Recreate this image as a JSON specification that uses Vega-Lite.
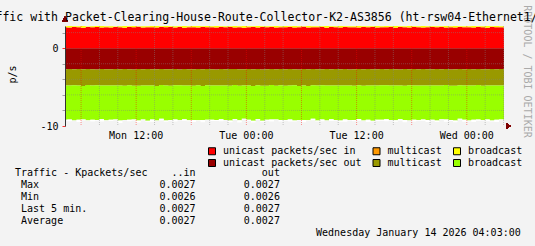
{
"$schema": "https://vega.github.io/schema/vega-lite/v6.json",
"autosize": {"type": "none"},
"padding": {"left": 15, "top": 26, "right": 520, "bottom": 220},
"background": "#f3f3f3",
"config": {"view": {"stroke": null}, "font": "DejaVu Sans Mono"},
"spacing": 47.3,
"bounds": "flush",
"center": true,
"vconcat": [
{
"width": 439,
"height": 100,
"title": {"text": "Traffic with Packet-Clearing-House-Route-Collector-K2-AS3856 (ht-rsw04-Ethernet1/1)", "anchor": "start", "frame": "group", "orient": "top", "dx": -90.4, "dy": 28, "offset": 0, "baseline": "alphabetic", "font": "DejaVu Sans Mono", "fontSize": 11.55, "fontWeight": "normal", "color": "#000"},
"data": {"values": [
{"t":"2026-01-12T04:00Z","p1":2.70,"p3":0.12,"q1":-2.70,"q2":-2.08,"q3":-4.42,"q4":-0.10},
{"t":"2026-01-12T04:30Z","p1":2.66,"p3":0.18,"q1":-2.68,"q2":-2.12,"q3":-4.35,"q4":-0.25},
{"t":"2026-01-12T05:00Z","p1":2.72,"p3":0.10,"q1":-2.72,"q2":-2.05,"q3":-4.48,"q4":-0.05},
{"t":"2026-01-12T05:30Z","p1":2.68,"p3":0.15,"q1":-2.69,"q2":-2.10,"q3":-4.40,"q4":-0.30},
{"t":"2026-01-12T06:00Z","p1":2.64,"p3":0.20,"q1":-2.71,"q2":-2.14,"q3":-4.30,"q4":-0.15},
{"t":"2026-01-12T06:30Z","p1":2.71,"p3":0.09,"q1":-2.67,"q2":-2.07,"q3":-4.52,"q4":-0.08},
{"t":"2026-01-12T07:00Z","p1":2.69,"p3":0.14,"q1":-2.70,"q2":-2.11,"q3":-4.38,"q4":-0.22},
{"t":"2026-01-12T07:30Z","p1":2.73,"p3":0.11,"q1":-2.73,"q2":-2.04,"q3":-4.45,"q4":-0.12},
{"t":"2026-01-12T08:00Z","p1":2.65,"p3":0.19,"q1":-2.68,"q2":-2.13,"q3":-4.33,"q4":-0.28},
{"t":"2026-01-12T08:30Z","p1":2.70,"p3":0.13,"q1":-2.70,"q2":-2.09,"q3":-4.47,"q4":-0.06},
{"t":"2026-01-12T09:00Z","p1":2.67,"p3":0.16,"q1":-2.72,"q2":-2.06,"q3":-4.41,"q4":-0.18},
{"t":"2026-01-12T09:30Z","p1":2.72,"p3":0.08,"q1":-2.69,"q2":-2.12,"q3":-4.36,"q4":-0.10},
{"t":"2026-01-12T10:00Z","p1":2.69,"p3":0.14,"q1":-2.71,"q2":-2.08,"q3":-4.50,"q4":-0.32},
{"t":"2026-01-12T10:30Z","p1":2.63,"p3":0.21,"q1":-2.68,"q2":-2.15,"q3":-4.39,"q4":-0.04},
{"t":"2026-01-12T11:00Z","p1":2.71,"p3":0.10,"q1":-2.70,"q2":-2.05,"q3":-4.44,"q4":-0.20},
{"t":"2026-01-12T11:30Z","p1":2.68,"p3":0.17,"q1":-2.74,"q2":-2.10,"q3":-4.31,"q4":-0.14},
{"t":"2026-01-12T12:00Z","p1":2.74,"p3":0.07,"q1":-2.69,"q2":-2.13,"q3":-4.46,"q4":-0.26},
{"t":"2026-01-12T12:30Z","p1":2.66,"p3":0.15,"q1":-2.71,"q2":-2.07,"q3":-4.40,"q4":-0.08},
{"t":"2026-01-12T13:00Z","p1":2.70,"p3":0.12,"q1":-2.67,"q2":-2.11,"q3":-4.54,"q4":-0.12},
{"t":"2026-01-12T13:30Z","p1":2.69,"p3":0.18,"q1":-2.70,"q2":-2.09,"q3":-4.37,"q4":-0.30},
{"t":"2026-01-12T14:00Z","p1":2.65,"p3":0.20,"q1":-2.72,"q2":-2.14,"q3":-4.43,"q4":-0.06},
{"t":"2026-01-12T14:30Z","p1":2.72,"p3":0.09,"q1":-2.68,"q2":-2.06,"q3":-4.34,"q4":-0.22},
{"t":"2026-01-12T15:00Z","p1":2.68,"p3":0.16,"q1":-2.70,"q2":-2.10,"q3":-4.49,"q4":-0.16},
{"t":"2026-01-12T15:30Z","p1":2.71,"p3":0.11,"q1":-2.71,"q2":-2.12,"q3":-4.41,"q4":-0.10},
{"t":"2026-01-12T16:00Z","p1":2.67,"p3":0.14,"q1":-2.69,"q2":-2.08,"q3":-4.38,"q4":-0.27},
{"t":"2026-01-12T16:30Z","p1":2.73,"p3":0.08,"q1":-2.73,"q2":-2.04,"q3":-4.45,"q4":-0.05},
{"t":"2026-01-12T17:00Z","p1":2.64,"p3":0.21,"q1":-2.67,"q2":-2.13,"q3":-4.32,"q4":-0.19},
{"t":"2026-01-12T17:30Z","p1":2.70,"p3":0.13,"q1":-2.70,"q2":-2.09,"q3":-4.47,"q4":-0.12},
{"t":"2026-01-12T18:00Z","p1":2.69,"p3":0.15,"q1":-2.72,"q2":-2.11,"q3":-4.40,"q4":-0.24},
{"t":"2026-01-12T18:30Z","p1":2.66,"p3":0.19,"q1":-2.68,"q2":-2.07,"q3":-4.51,"q4":-0.09},
{"t":"2026-01-12T19:00Z","p1":2.72,"p3":0.10,"q1":-2.71,"q2":-2.15,"q3":-4.36,"q4":-0.31},
{"t":"2026-01-12T19:30Z","p1":2.68,"p3":0.16,"q1":-2.69,"q2":-2.08,"q3":-4.43,"q4":-0.07},
{"t":"2026-01-12T20:00Z","p1":2.70,"p3":0.12,"q1":-2.70,"q2":-2.10,"q3":-4.39,"q4":-0.17},
{"t":"2026-01-12T20:30Z","p1":2.65,"p3":0.20,"q1":-2.73,"q2":-2.05,"q3":-4.46,"q4":-0.13},
{"t":"2026-01-12T21:00Z","p1":2.71,"p3":0.11,"q1":-2.68,"q2":-2.12,"q3":-4.34,"q4":-0.25},
{"t":"2026-01-12T21:30Z","p1":2.69,"p3":0.14,"q1":-2.71,"q2":-2.09,"q3":-4.42,"q4":-0.06},
{"t":"2026-01-12T22:00Z","p1":2.73,"p3":0.08,"q1":-2.69,"q2":-2.13,"q3":-4.48,"q4":-0.21},
{"t":"2026-01-12T22:30Z","p1":2.67,"p3":0.17,"q1":-2.67,"q2":-2.06,"q3":-4.37,"q4":-0.11},
{"t":"2026-01-12T23:00Z","p1":2.70,"p3":0.13,"q1":-2.72,"q2":-2.11,"q3":-4.44,"q4":-0.29},
{"t":"2026-01-12T23:30Z","p1":2.64,"p3":0.22,"q1":-2.70,"q2":-2.08,"q3":-4.30,"q4":-0.08},
{"t":"2026-01-13T00:00Z","p1":2.68,"p3":0.15,"q1":-2.68,"q2":-2.10,"q3":-4.41,"q4":-0.15},
{"t":"2026-01-13T00:30Z","p1":2.72,"p3":0.10,"q1":-2.71,"q2":-2.14,"q3":-4.47,"q4":-0.23},
{"t":"2026-01-13T01:00Z","p1":2.66,"p3":0.18,"q1":-2.69,"q2":-2.07,"q3":-4.35,"q4":-0.05},
{"t":"2026-01-13T01:30Z","p1":2.71,"p3":0.12,"q1":-2.73,"q2":-2.09,"q3":-4.50,"q4":-0.18},
{"t":"2026-01-13T02:00Z","p1":2.69,"p3":0.14,"q1":-2.70,"q2":-2.12,"q3":-4.39,"q4":-0.12},
{"t":"2026-01-13T02:30Z","p1":2.73,"p3":0.09,"q1":-2.67,"q2":-2.05,"q3":-4.43,"q4":-0.28},
{"t":"2026-01-13T03:00Z","p1":2.65,"p3":0.20,"q1":-2.72,"q2":-2.11,"q3":-4.33,"q4":-0.07},
{"t":"2026-01-13T03:30Z","p1":2.70,"p3":0.13,"q1":-2.69,"q2":-2.08,"q3":-4.46,"q4":-0.20},
{"t":"2026-01-13T04:00Z","p1":2.68,"p3":0.16,"q1":-2.71,"q2":-2.13,"q3":-4.40,"q4":-0.10},
{"t":"2026-01-13T04:30Z","p1":2.72,"p3":0.10,"q1":-2.68,"q2":-2.10,"q3":-4.38,"q4":-0.26},
{"t":"2026-01-13T05:00Z","p1":2.67,"p3":0.17,"q1":-2.70,"q2":-2.06,"q3":-4.52,"q4":-0.14},
{"t":"2026-01-13T05:30Z","p1":2.69,"p3":0.14,"q1":-2.74,"q2":-2.12,"q3":-4.36,"q4":-0.06},
{"t":"2026-01-13T06:00Z","p1":2.74,"p3":0.07,"q1":-2.69,"q2":-2.09,"q3":-4.44,"q4":-0.30},
{"t":"2026-01-13T06:30Z","p1":2.66,"p3":0.19,"q1":-2.71,"q2":-2.15,"q3":-4.41,"q4":-0.09},
{"t":"2026-01-13T07:00Z","p1":2.70,"p3":0.12,"q1":-2.68,"q2":-2.07,"q3":-4.31,"q4":-0.19},
{"t":"2026-01-13T07:30Z","p1":2.68,"p3":0.15,"q1":-2.70,"q2":-2.10,"q3":-4.48,"q4":-0.13},
{"t":"2026-01-13T08:00Z","p1":2.71,"p3":0.11,"q1":-2.72,"q2":-2.04,"q3":-4.39,"q4":-0.24},
{"t":"2026-01-13T08:30Z","p1":2.64,"p3":0.21,"q1":-2.67,"q2":-2.13,"q3":-4.45,"q4":-0.05},
{"t":"2026-01-13T09:00Z","p1":2.72,"p3":0.09,"q1":-2.70,"q2":-2.08,"q3":-4.35,"q4":-0.22},
{"t":"2026-01-13T09:30Z","p1":2.69,"p3":0.14,"q1":-2.69,"q2":-2.11,"q3":-4.42,"q4":-0.11},
{"t":"2026-01-13T10:00Z","p1":2.67,"p3":0.17,"q1":-2.71,"q2":-2.09,"q3":-4.49,"q4":-0.17},
{"t":"2026-01-13T10:30Z","p1":2.73,"p3":0.08,"q1":-2.68,"q2":-2.12,"q3":-4.37,"q4":-0.27},
{"t":"2026-01-13T11:00Z","p1":2.68,"p3":0.15,"q1":-2.73,"q2":-2.06,"q3":-4.43,"q4":-0.08},
{"t":"2026-01-13T11:30Z","p1":2.70,"p3":0.12,"q1":-2.70,"q2":-2.14,"q3":-4.40,"q4":-0.14},
{"t":"2026-01-13T12:00Z","p1":2.65,"p3":0.20,"q1":-2.69,"q2":-2.08,"q3":-4.34,"q4":-0.21},
{"t":"2026-01-13T12:30Z","p1":2.71,"p3":0.11,"q1":-2.72,"q2":-2.10,"q3":-4.47,"q4":-0.06},
{"t":"2026-01-13T13:00Z","p1":2.69,"p3":0.14,"q1":-2.67,"q2":-2.13,"q3":-4.41,"q4":-0.29},
{"t":"2026-01-13T13:30Z","p1":2.72,"p3":0.10,"q1":-2.71,"q2":-2.07,"q3":-4.53,"q4":-0.10},
{"t":"2026-01-13T14:00Z","p1":2.66,"p3":0.18,"q1":-2.70,"q2":-2.11,"q3":-4.38,"q4":-0.18},
{"t":"2026-01-13T14:30Z","p1":2.70,"p3":0.13,"q1":-2.68,"q2":-2.09,"q3":-4.44,"q4":-0.12},
{"t":"2026-01-13T15:00Z","p1":2.68,"p3":0.16,"q1":-2.72,"q2":-2.05,"q3":-4.36,"q4":-0.25},
{"t":"2026-01-13T15:30Z","p1":2.73,"p3":0.08,"q1":-2.69,"q2":-2.12,"q3":-4.42,"q4":-0.07},
{"t":"2026-01-13T16:00Z","p1":2.64,"p3":0.21,"q1":-2.70,"q2":-2.10,"q3":-4.46,"q4":-0.20},
{"t":"2026-01-13T16:30Z","p1":2.71,"p3":0.12,"q1":-2.73,"q2":-2.08,"q3":-4.33,"q4":-0.15},
{"t":"2026-01-13T17:00Z","p1":2.69,"p3":0.14,"q1":-2.68,"q2":-2.14,"q3":-4.40,"q4":-0.31},
{"t":"2026-01-13T17:30Z","p1":2.67,"p3":0.17,"q1":-2.71,"q2":-2.06,"q3":-4.48,"q4":-0.05},
{"t":"2026-01-13T18:00Z","p1":2.72,"p3":0.10,"q1":-2.69,"q2":-2.11,"q3":-4.39,"q4":-0.23},
{"t":"2026-01-13T18:30Z","p1":2.70,"p3":0.13,"q1":-2.70,"q2":-2.09,"q3":-4.45,"q4":-0.09},
{"t":"2026-01-13T19:00Z","p1":2.66,"p3":0.19,"q1":-2.67,"q2":-2.13,"q3":-4.37,"q4":-0.16},
{"t":"2026-01-13T19:30Z","p1":2.68,"p3":0.15,"q1":-2.72,"q2":-2.07,"q3":-4.43,"q4":-0.28},
{"t":"2026-01-13T20:00Z","p1":2.71,"p3":0.11,"q1":-2.70,"q2":-2.10,"q3":-4.41,"q4":-0.11},
{"t":"2026-01-13T20:30Z","p1":2.69,"p3":0.14,"q1":-2.68,"q2":-2.12,"q3":-4.50,"q4":-0.19},
{"t":"2026-01-13T21:00Z","p1":2.73,"p3":0.08,"q1":-2.71,"q2":-2.08,"q3":-4.35,"q4":-0.06},
{"t":"2026-01-13T21:30Z","p1":2.65,"p3":0.20,"q1":-2.69,"q2":-2.05,"q3":-4.44,"q4":-0.26},
{"t":"2026-01-13T22:00Z","p1":2.70,"p3":0.12,"q1":-2.73,"q2":-2.11,"q3":-4.39,"q4":-0.13},
{"t":"2026-01-13T22:30Z","p1":2.67,"p3":0.17,"q1":-2.70,"q2":-2.14,"q3":-4.46,"q4":-0.21},
{"t":"2026-01-13T23:00Z","p1":2.72,"p3":0.10,"q1":-2.67,"q2":-2.09,"q3":-4.32,"q4":-0.08},
{"t":"2026-01-13T23:30Z","p1":2.68,"p3":0.15,"q1":-2.72,"q2":-2.07,"q3":-4.42,"q4":-0.24},
{"t":"2026-01-14T00:00Z","p1":2.70,"p3":0.13,"q1":-2.69,"q2":-2.12,"q3":-4.47,"q4":-0.10},
{"t":"2026-01-14T00:30Z","p1":2.66,"p3":0.18,"q1":-2.71,"q2":-2.10,"q3":-4.38,"q4":-0.30},
{"t":"2026-01-14T01:00Z","p1":2.71,"p3":0.11,"q1":-2.68,"q2":-2.06,"q3":-4.43,"q4":-0.14},
{"t":"2026-01-14T01:30Z","p1":2.69,"p3":0.14,"q1":-2.70,"q2":-2.13,"q3":-4.40,"q4":-0.07},
{"t":"2026-01-14T02:00Z","p1":2.64,"p3":0.21,"q1":-2.72,"q2":-2.08,"q3":-4.36,"q4":-0.22},
{"t":"2026-01-14T02:30Z","p1":2.72,"p3":0.09,"q1":-2.69,"q2":-2.11,"q3":-4.49,"q4":-0.12},
{"t":"2026-01-14T03:00Z","p1":2.68,"p3":0.16,"q1":-2.71,"q2":-2.09,"q3":-4.41,"q4":-0.27},
{"t":"2026-01-14T03:30Z","p1":2.70,"p3":0.12,"q1":-2.68,"q2":-2.12,"q3":-4.37,"q4":-0.09},
{"t":"2026-01-14T04:00Z","p1":2.67,"p3":0.15,"q1":-2.70,"q2":-2.10,"q3":-4.44,"q4":-0.18},
{"t":"2026-01-14T04:30Z","p1":2.69,"p3":0.13,"q1":-2.70,"q2":-2.09,"q3":-4.40,"q4":-0.12}
]},
"layer": [
{
"transform": [{"fold": ["p1", "p3", "q1", "q2", "q3", "q4"], "as": ["key", "v"]}],
"mark": {"type": "area", "interpolate": "step-after", "clip": true},
"encoding": {
"x": {"field": "t", "type": "temporal",
"scale": {"type": "utc", "domain": [{"year": 2026, "month": 1, "date": 12, "hours": 4, "minutes": 15, "utc": true}, {"year": 2026, "month": 1, "date": 14, "hours": 4, "minutes": 3, "utc": true}]},
"axis": {"title": null,
"values": [1768197600000, 1768204800000, 1768212000000, 1768219200000, 1768226400000, 1768233600000, 1768240800000, 1768248000000, 1768255200000, 1768262400000, 1768269600000, 1768276800000, 1768284000000, 1768291200000, 1768298400000, 1768305600000, 1768312800000, 1768320000000, 1768327200000, 1768334400000, 1768341600000, 1768348800000, 1768356000000, 1768363200000],
"labels": false, "grid": false,
"tickColor": {"condition": {"test": "utchours(datum.value) % 6 == 0", "value": "rgba(255,0,0,0.7)"}, "value": "rgba(140,140,140,0.7)"},
"tickSize": 2, "domainColor": "#333", "zindex": 1}},
"y": {"field": "v", "type": "quantitative", "stack": "zero",
"scale": {"domain": [-10, 2.85], "nice": false, "zero": false},
"axis": {"values": [-10, -8, -6, -4, -2, 0, 2],
"labelExpr": "datum.value === 0 ? '0' : (datum.value === -10 ? '-10' : '')",
"labelFont": "DejaVu Sans Mono", "labelFontSize": 10, "labelColor": "#000", "labelPadding": 4,
"grid": false,
"tickColor": {"condition": {"test": "datum.value === 0 || datum.value === -10", "value": "rgba(255,0,0,0.8)"}, "value": "rgba(140,140,140,0.8)"},
"tickSize": 3, "domainColor": "#333",
"title": "p/s", "titleFont": "DejaVu Sans Mono", "titleFontSize": 10, "titleFontWeight": "normal", "titleColor": "#000",
"titleX": -53, "titleY": 48, "titleBaseline": "middle", "titleAlign": "center", "zindex": 1}},
"color": {"field": "key", "type": "nominal",
"scale": {"domain": ["p1", "p2", "p3", "q1", "q2", "q3", "q4"], "range": ["#ff0000", "#ff9900", "#ffff00", "#990000", "#999900", "#99ff00", "#ffffff"]},
"legend": {"values": ["p1", "p2", "p3", "q1", "q2", "q3"], "title": null,
"labelExpr": "datum.value === 'p1' ? 'unicast packets/sec in' : (datum.value === 'q1' ? 'unicast packets/sec out' : ((datum.value === 'p2' || datum.value === 'q2') ? 'multicast' : 'broadcast'))",
"orient": "none", "legendX": 192, "legendY": 120, "direction": "horizontal", "columns": 3, "padding": 0,
"symbolType": "square", "symbolSize": 49, "symbolStrokeColor": "#000", "symbolStrokeWidth": 1, "symbolOpacity": 1,
"labelFont": "DejaVu Sans Mono", "labelFontSize": 10, "labelColor": "#000", "labelOffset": 6, "labelLimit": 0,
"rowPadding": 0, "columnPadding": 8.5, "gridAlign": "each"}},
"order": {"field": "key", "sort": "ascending"}
}
},
{
"data": {"values": [
{"g": "2026-01-12T06:00Z"}, {"g": "2026-01-12T08:00Z"}, {"g": "2026-01-12T10:00Z"}, {"g": "2026-01-12T12:00Z"},
{"g": "2026-01-12T14:00Z"}, {"g": "2026-01-12T16:00Z"}, {"g": "2026-01-12T18:00Z"}, {"g": "2026-01-12T20:00Z"},
{"g": "2026-01-12T22:00Z"}, {"g": "2026-01-13T00:00Z"}, {"g": "2026-01-13T02:00Z"}, {"g": "2026-01-13T04:00Z"},
{"g": "2026-01-13T06:00Z"}, {"g": "2026-01-13T08:00Z"}, {"g": "2026-01-13T10:00Z"}, {"g": "2026-01-13T12:00Z"},
{"g": "2026-01-13T14:00Z"}, {"g": "2026-01-13T16:00Z"}, {"g": "2026-01-13T18:00Z"}, {"g": "2026-01-13T20:00Z"},
{"g": "2026-01-13T22:00Z"}, {"g": "2026-01-14T00:00Z"}, {"g": "2026-01-14T02:00Z"}, {"g": "2026-01-14T04:00Z"}
]},
"mark": {"type": "rule", "strokeDash": [1, 1], "strokeWidth": 1},
"encoding": {
"x": {"field": "g", "type": "temporal", "scale": {"type": "utc", "domain": [{"year": 2026, "month": 1, "date": 12, "hours": 4, "minutes": 15, "utc": true}, {"year": 2026, "month": 1, "date": 14, "hours": 4, "minutes": 3, "utc": true}]}, "axis": null},
"color": {"condition": {"test": "utchours(datum.g) % 6 == 0", "value": "rgba(255,0,0,0.42)"}, "value": "rgba(130,130,130,0.45)"}
}
},
{
"data": {"values": [{"h": -8}, {"h": -6}, {"h": -4}, {"h": -2}, {"h": 0}, {"h": 2}]},
"mark": {"type": "rule", "strokeDash": [1, 1], "strokeWidth": 1},
"encoding": {
"y": {"field": "h", "type": "quantitative", "scale": {"domain": [-10, 2.85], "nice": false, "zero": false}, "axis": null},
"color": {"condition": {"test": "datum.h == 0", "value": "rgba(255,0,0,0.42)"}, "value": "rgba(130,130,130,0.45)"}
}
},
{
"mark": {"type": "point", "shape": "triangle-up", "filled": true, "color": "#7f0000", "size": 25, "opacity": 1, "clip": false},
"encoding": {
"x": {"datum": {"year": 2026, "month": 1, "date": 12, "hours": 4, "minutes": 15, "utc": true}, "type": "temporal", "scale": {"type": "utc"}, "axis": null},
"y": {"datum": 3.75, "type": "quantitative", "scale": {"domain": [-10, 2.85], "nice": false, "zero": false},
"axis": {"orient": "right", "title": "RRDTOOL / TOBI OETIKER", "labels": false, "ticks": false, "domain": false, "grid": false,
"titleAngle": 90, "titleX": 22, "titleY": 45, "titleBaseline": "middle", "titleAlign": "center",
"titleColor": "#aaaaaa", "titleFont": "DejaVu Sans Mono", "titleFontSize": 10, "titleFontWeight": "normal"}}
}
},
{
"mark": {"type": "point", "shape": "triangle-right", "filled": true, "color": "#7f0000", "size": 25, "opacity": 1, "clip": false},
"encoding": {
"x": {"datum": {"year": 2026, "month": 1, "date": 14, "hours": 4, "minutes": 33, "utc": true}, "type": "temporal", "scale": {"type": "utc"}, "axis": null},
"y": {"datum": -10, "type": "quantitative", "scale": {"domain": [-10, 2.85], "nice": false, "zero": false}, "axis": null}
}
},
{
"data": {"values": [
{"t": "2026-01-12T12:00Z", "lab": "Mon 12:00"},
{"t": "2026-01-13T00:00Z", "lab": "Tue 00:00"},
{"t": "2026-01-13T12:00Z", "lab": "Tue 12:00"},
{"t": "2026-01-14T00:00Z", "lab": "Wed 00:00"}
]},
"mark": {"type": "text", "align": "center", "baseline": "top", "dy": 5, "font": "DejaVu Sans Mono", "fontSize": 10, "color": "#000", "clip": false},
"encoding": {
"x": {"field": "t", "type": "temporal", "scale": {"type": "utc", "domain": [{"year": 2026, "month": 1, "date": 12, "hours": 4, "minutes": 15, "utc": true}, {"year": 2026, "month": 1, "date": 14, "hours": 4, "minutes": 3, "utc": true}]}, "axis": null},
"y": {"datum": -10, "type": "quantitative", "scale": {"domain": [-10, 2.85], "nice": false, "zero": false}, "axis": null},
"text": {"field": "lab"}
}
}
],
"resolve": {"axis": {"y": "independent"}}
},
{
"width": 539,
"height": 60,
"data": {"values": [
{"r": 1, "s": "Traffic - Kpackets/sec\u00a0\u00a0\u00a0\u00a0..in\u00a0\u00a0\u00a0\u00a0\u00a0\u00a0\u00a0\u00a0\u00a0\u00a0\u00a0out"},
{"r": 2, "s": "\u200b\u00a0Max\u00a0\u00a0\u00a0\u00a0\u00a0\u00a0\u00a0\u00a0\u00a0\u00a0\u00a0\u00a0\u00a0\u00a0\u00a0\u00a0\u00a0\u00a0\u00a0\u00a00.0027\u00a0\u00a0\u00a0\u00a0\u00a0\u00a0\u00a0\u00a00.0027"},
{"r": 3, "s": "\u200b\u00a0Min\u00a0\u00a0\u00a0\u00a0\u00a0\u00a0\u00a0\u00a0\u00a0\u00a0\u00a0\u00a0\u00a0\u00a0\u00a0\u00a0\u00a0\u00a0\u00a0\u00a00.0026\u00a0\u00a0\u00a0\u00a0\u00a0\u00a0\u00a0\u00a00.0026"},
{"r": 4, "s": "\u200b\u00a0Last 5 min.\u00a0\u00a0\u00a0\u00a0\u00a0\u00a0\u00a0\u00a0\u00a0\u00a0\u00a0\u00a00.0027\u00a0\u00a0\u00a0\u00a0\u00a0\u00a0\u00a0\u00a00.0027"},
{"r": 5, "s": "\u200b\u00a0Average\u00a0\u00a0\u00a0\u00a0\u00a0\u00a0\u00a0\u00a0\u00a0\u00a0\u00a0\u00a0\u00a0\u00a0\u00a0\u00a00.0027\u00a0\u00a0\u00a0\u00a0\u00a0\u00a0\u00a0\u00a00.0027"},
{"r": 6, "s": "\u200b\u00a0\u00a0\u00a0\u00a0\u00a0\u00a0\u00a0\u00a0\u00a0\u00a0\u00a0\u00a0\u00a0\u00a0\u00a0\u00a0\u00a0\u00a0\u00a0\u00a0\u00a0\u00a0\u00a0\u00a0\u00a0\u00a0\u00a0\u00a0\u00a0\u00a0\u00a0\u00a0\u00a0\u00a0\u00a0\u00a0\u00a0\u00a0\u00a0\u00a0\u00a0\u00a0\u00a0\u00a0\u00a0\u00a0\u00a0\u00a0\u00a0\u00a0Wednesday January 14 2026 04:03:00"}
]},
"mark": {"type": "text", "align": "left", "baseline": "middle", "font": "DejaVu Sans Mono", "fontSize": 10, "color": "#000"},
"encoding": {
"x": {"datum": 0, "type": "quantitative", "scale": {"domain": [0, 1]}, "axis": null},
"y": {"field": "r", "type": "ordinal", "scale": {"type": "point", "padding": 0}, "axis": null},
"text": {"field": "s"}
}
}
]
}
